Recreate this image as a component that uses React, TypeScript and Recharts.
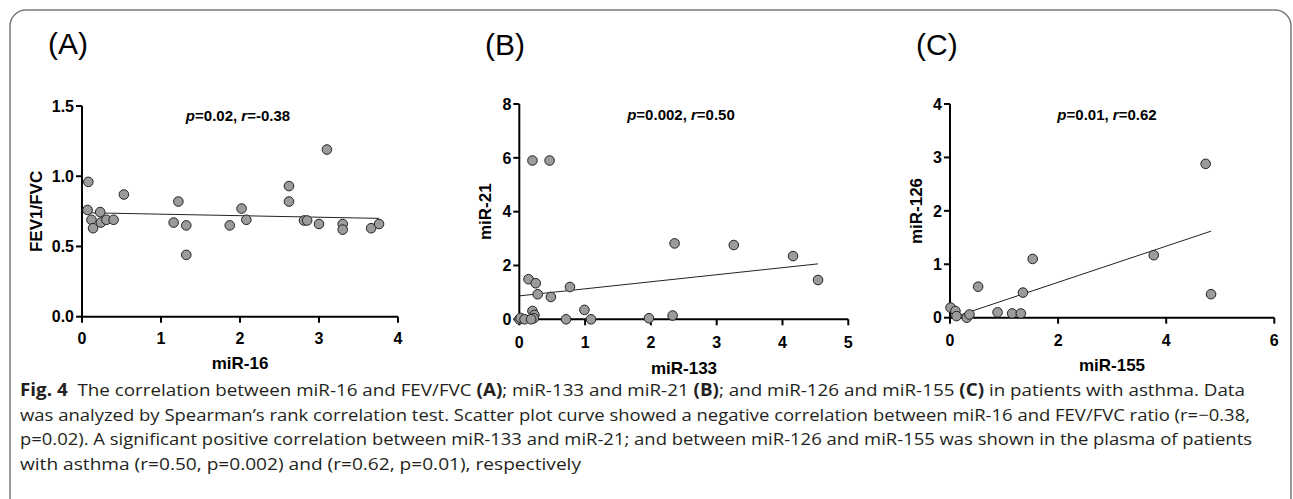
import React from "react";
import { ScatterChart, Scatter, XAxis, YAxis, ReferenceLine } from "recharts";

// Panel A: miR-16 vs FEV1/FVC
const miR16 = [0.07, 0.08, 0.12, 0.14, 0.23, 0.24, 0.31, 0.4, 0.53, 1.16, 1.22, 1.32, 1.32, 1.87, 2.02, 2.08, 2.62, 2.62, 2.81, 2.85, 3.0, 3.1, 3.3, 3.3, 3.66, 3.76];
const fev1fvc = [0.76, 0.96, 0.69, 0.63, 0.745, 0.67, 0.69, 0.69, 0.87, 0.67, 0.82, 0.65, 0.44, 0.65, 0.77, 0.69, 0.93, 0.82, 0.685, 0.685, 0.66, 1.19, 0.66, 0.62, 0.63, 0.66];
const trendA = [{ x: 0.07, y: 0.74 }, { x: 3.76, y: 0.7 }];
const ticksAX = [0, 1, 2, 3, 4];
const ticksAY = [0, 0.5, 1, 1.5];

// Panel B: miR-133 vs miR-21
const miR133 = [0.0, 0.02, 0.08, 0.2, 0.46, 0.14, 0.25, 0.28, 0.48, 0.77, 0.2, 0.23, 0.22, 0.18, 0.71, 0.99, 1.09, 1.97, 2.33, 2.36, 3.26, 4.16, 4.54];
const miR21 = [0.0, 0.05, 0.0, 5.9, 5.9, 1.49, 1.34, 0.93, 0.83, 1.2, 0.31, 0.16, 0.04, 0.0, 0.0, 0.35, 0.0, 0.04, 0.14, 2.82, 2.76, 2.35, 1.46];
const trendB = [{ x: 0, y: 0.87 }, { x: 4.54, y: 2.06 }];
const ticksBX = [0, 1, 2, 3, 4, 5];
const ticksBY = [0, 2, 4, 6, 8];

// Panel C: miR-155 vs miR-126
const miR155 = [0.01, 0.1, 0.12, 0.31, 0.36, 0.52, 0.88, 1.15, 1.31, 1.35, 1.53, 3.77, 4.73, 4.83];
const miR126 = [0.19, 0.125, 0.03, 0.0, 0.06, 0.58, 0.1, 0.08, 0.08, 0.47, 1.1, 1.17, 2.88, 0.44];
const trendC = [{ x: 0.04, y: 0.0 }, { x: 4.83, y: 1.62 }];
const ticksCX = [0, 2, 4, 6];
const ticksCY = [0, 1, 2, 3, 4];

const captionLines = [
  ["Fig. 4", "  The correlation between miR-16 and FEV/FVC ", "(A)", "; miR-133 and miR-21 ", "(B)", "; and miR-126 and miR-155 ", "(C)", " in patients with asthma. Data"],
  ["was analyzed by Spearman\u2019s rank correlation test. Scatter plot curve showed a negative correlation between miR-16 and FEV/FVC ratio (r=\u22120.38,"],
  ["p=0.02). A significant positive correlation between miR-133 and miR-21; and between miR-126 and miR-155 was shown in the plasma of patients"],
  ["with asthma (r=0.50, p=0.002) and (r=0.62, p=0.01), respectively"],
];

const zip = (xs: number[], ys: number[]) => xs.map((x, i) => ({ x, y: ys[i] }));

const FONT = "'Liberation Sans', Arial, Helvetica, sans-serif";
const tickStyle = { fill: "#000", fontSize: 16, fontWeight: 700, fontFamily: FONT };
const axisLine = { stroke: "#000", strokeWidth: 2 };

const Dot = (p: any) => (
  <circle cx={p.cx} cy={p.cy} r={4.8} fill="#9b9b9b" stroke="#222" strokeWidth={1} />
);

type PanelProps = {
  left: number;
  width: number;
  data: { x: number; y: number }[];
  trend: { x: number; y: number }[];
  xTicks: number[];
  yTicks: number[];
  yFmt?: (v: number) => string;
  yAxisWidth: number;
  margin: { top: number; right: number; bottom: number; left: number };
  xTickMargin: number;
};

const Panel = ({ left, width, data, trend, xTicks, yTicks, yFmt, yAxisWidth, margin, xTickMargin }: PanelProps) => (
  <div style={{ position: "absolute", left, top: 0 }}>
    <ScatterChart width={width} height={380} margin={margin}>
      <XAxis
        type="number"
        dataKey="x"
        domain={[xTicks[0], xTicks[xTicks.length - 1]]}
        ticks={xTicks}
        interval={0}
        height={30}
        axisLine={axisLine}
        tickLine={axisLine}
        tickSize={6}
        tickMargin={xTickMargin}
        tick={tickStyle}
      />
      <YAxis
        type="number"
        dataKey="y"
        domain={[yTicks[0], yTicks[yTicks.length - 1]]}
        ticks={yTicks}
        interval={0}
        width={yAxisWidth}
        axisLine={axisLine}
        tickLine={axisLine}
        tickSize={6}
        tickMargin={2}
        tick={tickStyle}
        tickFormatter={yFmt}
      />
      <ReferenceLine segment={trend} stroke="#222" strokeWidth={1} ifOverflow="visible" />
      <Scatter data={data} shape={Dot} isAnimationActive={false} />
    </ScatterChart>
  </div>
);

const Stat = ({ x, y, p, r }: { x: number; y: number; p: string; r: string }) => (
  <text x={x} y={y} textAnchor="middle" fontFamily={FONT} fontWeight={700} fontSize={15} fill="#000">
    <tspan fontStyle="italic">p</tspan>
    <tspan>{"=" + p + ", "}</tspan>
    <tspan fontStyle="italic">r</tspan>
    <tspan>{"=" + r}</tspan>
  </text>
);

export default function App() {
  const capFont = "'Open Sans', 'Noto Sans', sans-serif";
  const capY = [396, 420.5, 445, 469.5];
  const capLen = [1225, 1230, 1232, 561];
  return (
    <div style={{ position: "absolute", left: 0, top: 0, width: 1293, height: 499, background: "#fff", overflow: "hidden" }}>
      <svg width={1293} height={499} style={{ position: "absolute", left: 0, top: 0 }}>
        <rect x={10} y={10} width={1281} height={520} rx={16} ry={16} fill="none" stroke="#7a7a7a" strokeWidth={1.5} />
      </svg>

      <Panel
        left={0}
        width={430}
        data={zip(miR16, fev1fvc)}
        trend={trendA}
        xTicks={ticksAX}
        yTicks={ticksAY}
        yFmt={(v) => v.toFixed(1)}
        yAxisWidth={82}
        margin={{ top: 106, right: 32, bottom: 33.3, left: 0 }}
        xTickMargin={10}
      />
      <Panel
        left={430}
        width={430}
        data={zip(miR133, miR21)}
        trend={trendB}
        xTicks={ticksBX}
        yTicks={ticksBY}
        yAxisWidth={89.3}
        margin={{ top: 104, right: 11.7, bottom: 30.7, left: 0 }}
        xTickMargin={11}
      />
      <Panel
        left={860}
        width={433}
        data={zip(miR155, miR126)}
        trend={trendC}
        xTicks={ticksCX}
        yTicks={ticksCY}
        yAxisWidth={90}
        margin={{ top: 104, right: 18.7, bottom: 32.3, left: 0 }}
        xTickMargin={11}
      />

      <svg width={1293} height={499} style={{ position: "absolute", left: 0, top: 0, pointerEvents: "none" }}>
        <g fontFamily={FONT} fontSize={30} fill="#000">
          <text x={48} y={54}>(A)</text>
          <text x={485} y={55}>(B)</text>
          <text x={916} y={55}>(C)</text>
        </g>
        <Stat x={238} y={120.7} p="0.02" r="-0.38" />
        <Stat x={681} y={120} p="0.002" r="0.50" />
        <Stat x={1107} y={120} p="0.01" r="0.62" />
        <g fontFamily={FONT} fontWeight={700} fontSize={17} fill="#000" textAnchor="middle">
          <text transform="translate(42,211.4) rotate(-90)">FEV1/FVC</text>
          <text transform="translate(491,211.7) rotate(-90)">miR-21</text>
          <text transform="translate(921.7,211) rotate(-90)">miR-126</text>
          <text x={240} y={369}>miR-16</text>
          <text x={684} y={374}>miR-133</text>
          <text x={1112} y={371}>miR-155</text>
        </g>
        <g fontFamily={capFont} fontSize={17} fill="#231f20">
          {captionLines.map((parts, li) => (
            <text key={li} x={20} y={capY[li]} textLength={capLen[li]} lengthAdjust="spacingAndGlyphs" xmlSpace="preserve">
              {parts.map((s, i) => {
                const bold = li === 0 && (i === 0 || s === "(A)" || s === "(B)" || s === "(C)");
                return (
                  <tspan key={i} fontWeight={bold ? 700 : 400}>
                    {s}
                  </tspan>
                );
              })}
            </text>
          ))}
        </g>
      </svg>
    </div>
  );
}
